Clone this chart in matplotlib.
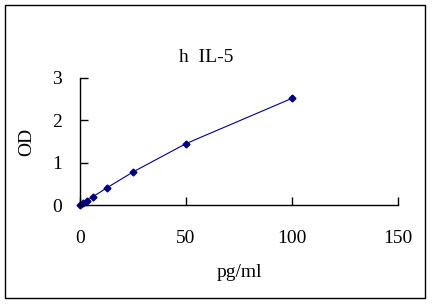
import matplotlib.pyplot as plt
from matplotlib.patches import Rectangle

# standard curve data
conc = [0, 1.56, 3.12, 6.25, 12.5, 25, 50, 100]
od = [0.01, 0.05, 0.1, 0.2, 0.4, 0.78, 1.45, 2.52]
x_ticks = [0, 50, 100, 150]
y_ticks = [0, 1, 2, 3]

plt.rcParams['font.family'] = ['Liberation Serif', 'DejaVu Serif']

fig = plt.figure(figsize=(4.33, 3.05), dpi=100)
ax = fig.add_axes([80 / 433, 1 - 205 / 305, 318 / 433, 127 / 305])

ax.plot(conc, od, color='#000080', lw=0.8, marker='D', markersize=3.5,
        markerfacecolor='#000080', markeredgecolor='#000080', clip_on=False)

ax.set_xlim(0, 150)
ax.set_ylim(0, 3)
ax.set_xticks(x_ticks)
ax.set_yticks(y_ticks)
ax.spines['top'].set_visible(False)
ax.spines['right'].set_visible(False)
for s in ('left', 'bottom'):
    ax.spines[s].set_linewidth(1.0)
ax.tick_params(axis='x', direction='in', length=6, width=1, pad=18, labelsize=14)
ax.tick_params(axis='y', direction='in', length=6, width=1, pad=13, labelsize=14)

ax.set_xlabel('pg/ml', fontsize=14, labelpad=12)
ax.set_ylabel('OD', fontsize=14, labelpad=12)
fig.text(206 / 433, 1 - 57 / 305, 'h  IL-5', fontsize=14, ha='center', va='center')

fig.patches.append(Rectangle((5 / 433, 1 - 298 / 305), 420 / 433, 293 / 305,
                             transform=fig.transFigure, fill=False,
                             edgecolor='black', lw=1.0))

fig.savefig('out.png', dpi=100)
